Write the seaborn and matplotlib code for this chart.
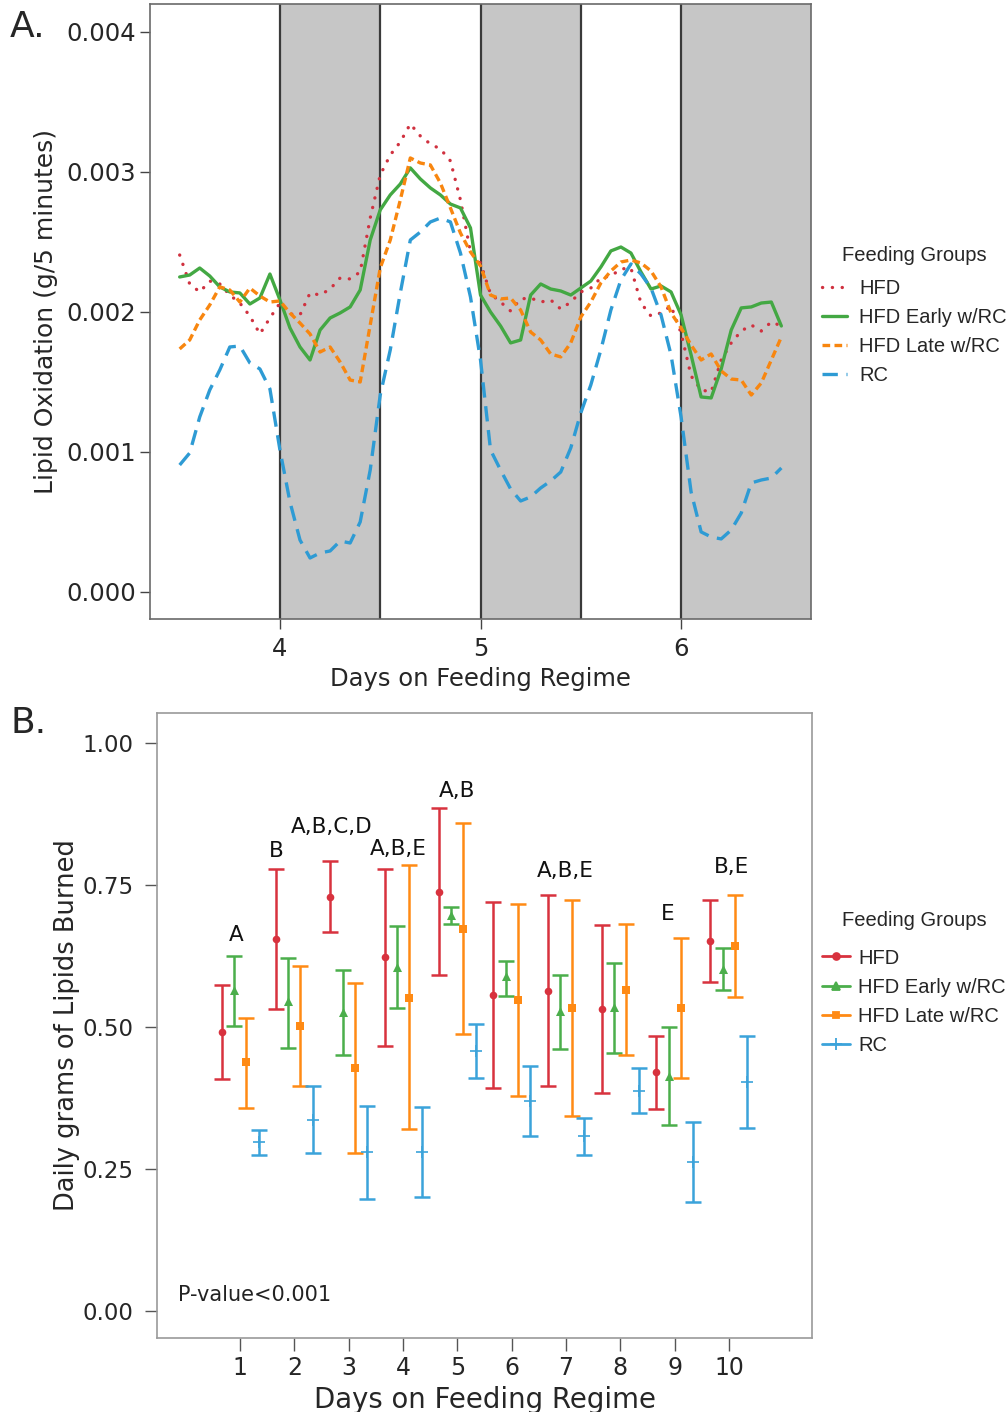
import numpy as np
import pandas as pd
import matplotlib
matplotlib.use("Agg")
import matplotlib.pyplot as plt
from matplotlib.lines import Line2D
import seaborn as sns

# ---------------- Panel A data (lipid oxidation, units of 0.001 g / 5 min) ----------
days_a = np.round(np.arange(3.5, 6.5001, 0.05), 2)

hfd_a = [2.407, 2.200, 2.143, 2.221, 2.200, 2.121, 2.064, 1.971, 1.843, 1.957,
         2.064, 1.986, 1.979, 2.136, 2.121, 2.164, 2.243, 2.236, 2.286, 2.671,
         2.979, 3.121, 3.214, 3.343, 3.257, 3.200, 3.164, 3.079, 2.800, 2.429,
         2.350, 2.129, 2.071, 2.007, 2.093, 2.100, 2.071, 2.086, 2.021, 2.071,
         2.143, 2.171, 2.243, 2.257, 2.307, 2.314, 2.064, 1.971, 1.993, 2.043,
         1.850, 1.543, 1.443, 1.429, 1.657, 1.779, 1.864, 1.907, 1.864, 1.929,
         1.900]
early_a = [2.250, 2.264, 2.314, 2.257, 2.179, 2.143, 2.136, 2.057, 2.100, 2.271,
           2.086, 1.886, 1.750, 1.657, 1.871, 1.957, 1.993, 2.036, 2.157, 2.514,
           2.729, 2.836, 2.914, 3.029, 2.950, 2.886, 2.836, 2.771, 2.743, 2.600,
           2.121, 2.000, 1.900, 1.779, 1.800, 2.121, 2.200, 2.164, 2.150, 2.121,
           2.171, 2.221, 2.321, 2.436, 2.464, 2.421, 2.286, 2.164, 2.186, 2.143,
           1.979, 1.693, 1.393, 1.386, 1.593, 1.871, 2.029, 2.036, 2.064, 2.071,
           1.900]
late_a = [1.736, 1.800, 1.943, 2.050, 2.179, 2.157, 2.071, 2.171, 2.114, 2.071,
          2.079, 1.993, 1.921, 1.843, 1.714, 1.750, 1.643, 1.514, 1.500, 1.907,
          2.314, 2.514, 2.800, 3.100, 3.064, 3.050, 2.921, 2.743, 2.564, 2.429,
          2.329, 2.121, 2.093, 2.100, 2.014, 1.857, 1.800, 1.700, 1.679, 1.779,
          1.964, 2.071, 2.207, 2.293, 2.357, 2.371, 2.350, 2.293, 2.179, 1.993,
          1.886, 1.764, 1.657, 1.700, 1.579, 1.521, 1.514, 1.407, 1.493, 1.657,
          1.821]
rc_a = [0.907, 0.993, 1.250, 1.443, 1.586, 1.750, 1.757, 1.636, 1.593, 1.450,
        1.014, 0.643, 0.371, 0.243, 0.279, 0.293, 0.364, 0.350, 0.500, 0.871,
        1.407, 1.729, 2.136, 2.514, 2.571, 2.643, 2.671, 2.643, 2.421, 2.107,
        1.657, 1.014, 0.871, 0.736, 0.650, 0.679, 0.743, 0.793, 0.857, 1.029,
        1.279, 1.479, 1.729, 2.014, 2.229, 2.343, 2.271, 2.171, 1.979, 1.693,
        1.250, 0.714, 0.429, 0.393, 0.379, 0.443, 0.564, 0.779, 0.800, 0.814,
        0.886]

groups = ["HFD", "HFD Early w/RC", "HFD Late w/RC", "RC"]
dark_starts = [4.0, 5.0, 6.0]
dark_ends = [4.5, 5.5, 6.65]

# ---------------- Panel B data (daily grams of lipids burned) ----------------------
days_b = list(range(1, 11))
hfd_mean = [0.491, 0.655, 0.729, 0.623, 0.738, 0.556, 0.564, 0.531, 0.420, 0.651]
hfd_lo = [0.408, 0.532, 0.667, 0.466, 0.591, 0.392, 0.396, 0.383, 0.356, 0.579]
hfd_hi = [0.574, 0.778, 0.792, 0.779, 0.885, 0.720, 0.732, 0.680, 0.485, 0.724]
early_mean = [0.565, 0.545, 0.526, 0.606, 0.698, 0.589, 0.529, 0.535, 0.414, 0.603]
early_lo = [0.502, 0.463, 0.450, 0.533, 0.682, 0.555, 0.462, 0.455, 0.327, 0.566]
early_hi = [0.625, 0.622, 0.600, 0.678, 0.712, 0.617, 0.592, 0.613, 0.500, 0.640]
late_mean = [0.438, 0.502, 0.428, 0.552, 0.673, 0.548, 0.534, 0.566, 0.533, 0.643]
late_lo = [0.358, 0.396, 0.279, 0.320, 0.487, 0.379, 0.344, 0.451, 0.410, 0.553]
late_hi = [0.516, 0.607, 0.577, 0.785, 0.860, 0.717, 0.724, 0.681, 0.656, 0.733]
rc_mean = [0.297, 0.337, 0.280, 0.280, 0.458, 0.370, 0.308, 0.388, 0.262, 0.404]
rc_lo = [0.275, 0.279, 0.198, 0.201, 0.410, 0.309, 0.275, 0.349, 0.192, 0.323]
rc_hi = [0.319, 0.396, 0.361, 0.359, 0.505, 0.431, 0.339, 0.428, 0.332, 0.485]

ann_text = ["A", "B", "A,B,C,D", "A,B,E", "A,B", "A,B,E", "E", "B,E"]
ann_x = [0.93, 1.67, 2.68, 3.91, 5.0, 6.98, 8.88, 10.04]
ann_y = [0.662, 0.810, 0.852, 0.813, 0.915, 0.775, 0.699, 0.782]

# ---------------- styling --------------------------------------------------------
sns.set_theme(style="white")
plt.rcParams["font.family"] = ["DejaVu Sans"]

col_a = {"HFD": "#d0313f", "HFD Early w/RC": "#43a843",
         "HFD Late w/RC": "#f8860f", "RC": "#2e9bd4"}
col_b = {"HFD": "#d8323e", "HFD Early w/RC": "#4bae4b",
         "HFD Late w/RC": "#ff8a14", "RC": "#3ba3da"}
ls_a = {"HFD": (0, (0.05, 2.9)), "HFD Early w/RC": "-",
        "HFD Late w/RC": (0, (2.3, 1.3)), "RC": (0, (4.6, 2.6))}
mk_b = {"HFD": "o", "HFD Early w/RC": "^", "HFD Late w/RC": "s", "RC": "+"}
ms_b = {"HFD": 5.5, "HFD Early w/RC": 6.5, "HFD Late w/RC": 5.5, "RC": 9}
dodge = {"HFD": -0.34, "HFD Early w/RC": -0.11, "HFD Late w/RC": 0.11, "RC": 0.34}

fig = plt.figure(figsize=(10.08, 14.12), dpi=100)

# ================= Panel A =================
axA = fig.add_axes([0.1488, 0.5616, 0.6558, 0.4356])
dfA = pd.DataFrame({
    "day": np.tile(days_a, 4),
    "value": np.concatenate([hfd_a, early_a, late_a, rc_a]) * 1e-3,
    "group": np.repeat(groups, len(days_a)),
})
for s, e in zip(dark_starts, dark_ends):
    axA.axvspan(s, e, facecolor="#c6c6c6", edgecolor="none", zorder=0)
for b in [4.0, 4.5, 5.0, 5.5, 6.0]:
    axA.axvline(b, color="#3a3a3a", lw=1.6, zorder=1)
for g in groups:
    sub = dfA[dfA["group"] == g]
    sns.lineplot(data=sub, x="day", y="value", ax=axA, color=col_a[g],
                 linestyle=ls_a[g], lw=2.4, legend=False, zorder=3,
                 dash_capstyle="round" if g == "HFD" else "butt")
axA.set_xlim(3.352, 6.648)
axA.set_ylim(-0.000193, 0.0042)
axA.set_xticks([4, 5, 6])
axA.set_yticks([0.0, 0.001, 0.002, 0.003, 0.004])
axA.set_yticklabels(["0.000", "0.001", "0.002", "0.003", "0.004"])
axA.set_xlabel("Days on Feeding Regime", fontsize=17.5, labelpad=4)
axA.set_ylabel("Lipid Oxidation (g/5 minutes)", fontsize=18, labelpad=6)
axA.tick_params(axis="both", which="major", labelsize=17.5, length=7, width=1,
                color="#444444", pad=3, left=True, bottom=True)
axA.tick_params(axis="x", pad=6)
for sp in axA.spines.values():
    sp.set_color("#6a6a6a")
    sp.set_linewidth(1.2)

hA = [Line2D([], [], color=col_a[g], linestyle=ls_a[g], lw=2.4,
             dash_capstyle="round" if g == "HFD" else "butt") for g in groups]
legA = axA.legend(hA, groups, title="Feeding Groups", loc="upper left",
                  bbox_to_anchor=(0.8155, 0.8255), bbox_transform=fig.transFigure,
                  frameon=False, borderaxespad=0, borderpad=0,
                  handlelength=1.25, handletextpad=0.6, labelspacing=0.5,
                  prop={"family": "Liberation Sans", "size": 14.5},
                  title_fontproperties={"family": "Liberation Sans", "size": 14.5})
legA._legend_box.sep = 10

# ================= Panel B =================
axB = fig.add_axes([0.1558, 0.0524, 0.6498, 0.4426])
dfB = pd.DataFrame({
    "day": np.tile(days_b, 4),
    "mean": np.concatenate([hfd_mean, early_mean, late_mean, rc_mean]),
    "lo": np.concatenate([hfd_lo, early_lo, late_lo, rc_lo]),
    "hi": np.concatenate([hfd_hi, early_hi, late_hi, rc_hi]),
    "group": np.repeat(groups, len(days_b)),
})
dfB["x"] = dfB["day"] + dfB["group"].map(dodge)
for g in groups:
    sub = dfB[dfB["group"] == g]
    axB.errorbar(sub["x"], sub["mean"],
                 yerr=[sub["mean"] - sub["lo"], sub["hi"] - sub["mean"]],
                 fmt="none", ecolor=col_b[g], elinewidth=1.8, capsize=5.5,
                 capthick=1.8, zorder=2)
    sns.scatterplot(data=sub, x="x", y="mean", ax=axB, color=col_b[g],
                    marker=mk_b[g], s=ms_b[g] ** 2, linewidth=1.2 if g == "RC" else 0,
                    edgecolor=col_b[g], legend=False, zorder=3)
for t, x, y in zip(ann_text, ann_x, ann_y):
    axB.text(x, y, t, ha="center", va="center", fontsize=15.5, color="#111111")
axB.text(0.032, 0.069, "P-value<0.001", transform=axB.transAxes, ha="left",
         va="center", fontsize=15, color="#222222")
axB.set_xlim(-0.53, 11.53)
axB.set_ylim(-0.0475, 1.0528)
axB.set_xticks(days_b)
axB.set_yticks([0.0, 0.25, 0.5, 0.75, 1.0])
axB.set_yticklabels(["0.00", "0.25", "0.50", "0.75", "1.00"])
axB.set_xlabel("Days on Feeding Regime", fontsize=19.8, labelpad=4)
axB.set_ylabel("Daily grams of Lipids Burned", fontsize=18.5, labelpad=2)
axB.tick_params(axis="both", which="major", labelsize=16.5, length=9, width=1,
                color="#555555", pad=8, left=True, bottom=True)
axB.tick_params(axis="x", pad=4, labelsize=17)
for sp in axB.spines.values():
    sp.set_color("#9a9a9a")
    sp.set_linewidth(1.2)

hB = [Line2D([], [], color=col_b[g], marker=mk_b[g], markersize=ms_b[g] * 0.9,
             lw=2.0, markeredgewidth=1.3) for g in groups]
legB = axB.legend(hB, groups, title="Feeding Groups", loc="upper left",
                  bbox_to_anchor=(0.8155, 0.3545), bbox_transform=fig.transFigure,
                  frameon=False, borderaxespad=0, borderpad=0,
                  handlelength=1.4, handletextpad=0.4, labelspacing=0.5,
                  prop={"family": "Liberation Sans", "size": 14.5},
                  title_fontproperties={"family": "Liberation Sans", "size": 14.5})
legB._legend_box.sep = 13

fig.text(0.010, 0.981, "A.", fontsize=26, va="center", ha="left")
fig.text(0.010, 0.488, "B.", fontsize=26, va="center", ha="left")

fig.savefig("out.png", dpi=100)
